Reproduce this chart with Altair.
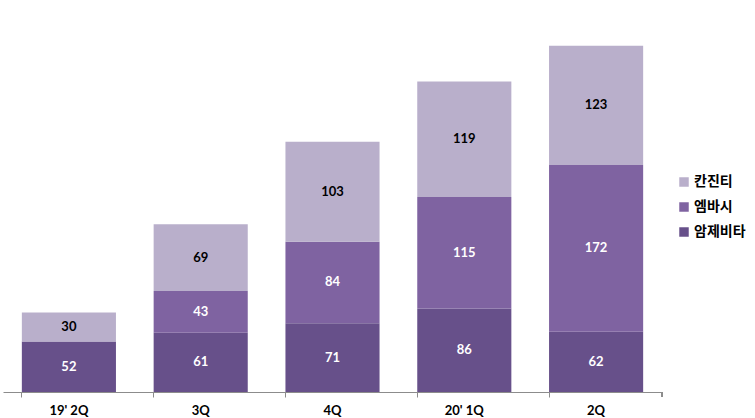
import altair as alt
import pandas as pd

quarters = ["19' 2Q", "3Q", "4Q", "20' 1Q", "2Q"]
series = ["암제비타", "엠바시", "칸진티"]
amjebita = [52, 61, 71, 86, 62]
embasi = [None, 43, 84, 115, 172]
kanjinti = [30, 69, 103, 119, 123]

legend_order = ["칸진티", "엠바시", "암제비타"]
colors = ["#B9AFCB", "#7F63A1", "#67508A"]

rows = []
for i, q in enumerate(quarters):
    for k, (name, vals) in enumerate(zip(series, [amjebita, embasi, kanjinti])):
        v = vals[i]
        if v is not None:
            rows.append({"quarter": q, "series": name, "value": v, "order": k})
df = pd.DataFrame(rows)

W, H = 659, 388

base = alt.Chart(df).transform_stack(
    stack="value", groupby=["quarter"], as_=["y0", "y1"],
    sort=[alt.SortField("order", order="ascending")]
).transform_calculate(mid="(datum.y0 + datum.y1) / 2")

xenc = alt.X("quarter:N", sort=quarters, title=None,
             scale=alt.Scale(paddingInner=0.286, paddingOuter=0.143),
             axis=alt.Axis(labelAngle=0, bandPosition=0, tickSize=5,
                           domainColor="#8c8c8c", tickColor="#8c8c8c",
                           labelFont="Lato", labelFontWeight="bold",
                           labelFontSize=13, labelColor="#000000",
                           labelPadding=7))
yscale = alt.Scale(domain=[0, 400], nice=False)

bars = base.mark_bar().encode(
    x=xenc,
    y=alt.Y("y0:Q", scale=yscale, axis=None),
    y2="y1:Q",
    color=alt.Color("series:N", scale=alt.Scale(domain=legend_order, range=colors),
                    legend=alt.Legend(title=None, orient="none", legendX=674, legendY=171,
                                      symbolType="square", symbolSize=90,
                                      symbolStrokeWidth=0,
                                      labelFont="Noto Sans CJK KR", labelFontWeight="bold",
                                      labelFontSize=14, labelColor="#000000",
                                      rowPadding=11, labelOffset=3)),
)

labels = base.mark_text(font="Lato", fontWeight="bold", fontSize=13).encode(
    x=alt.X("quarter:N", sort=quarters),
    y=alt.Y("mid:Q", scale=yscale),
    text="value:Q",
    color=alt.condition(alt.datum.series == "칸진티", alt.value("#000000"), alt.value("#ffffff")),
)

endtick = alt.Chart(df).mark_rule(color="#8c8c8c").encode(
    x=alt.value(W), y=alt.value(H), y2=alt.value(H + 5)
)

chart = alt.layer(bars, labels, endtick).properties(
    width=W, height=H,
    autosize=alt.AutoSizeParams(type="none"),
    padding={"left": 3, "top": 4, "right": 93, "bottom": 26},
).configure_view(stroke=None)

chart.save("out.html", embed_options={"renderer": "svg", "actions": False})
